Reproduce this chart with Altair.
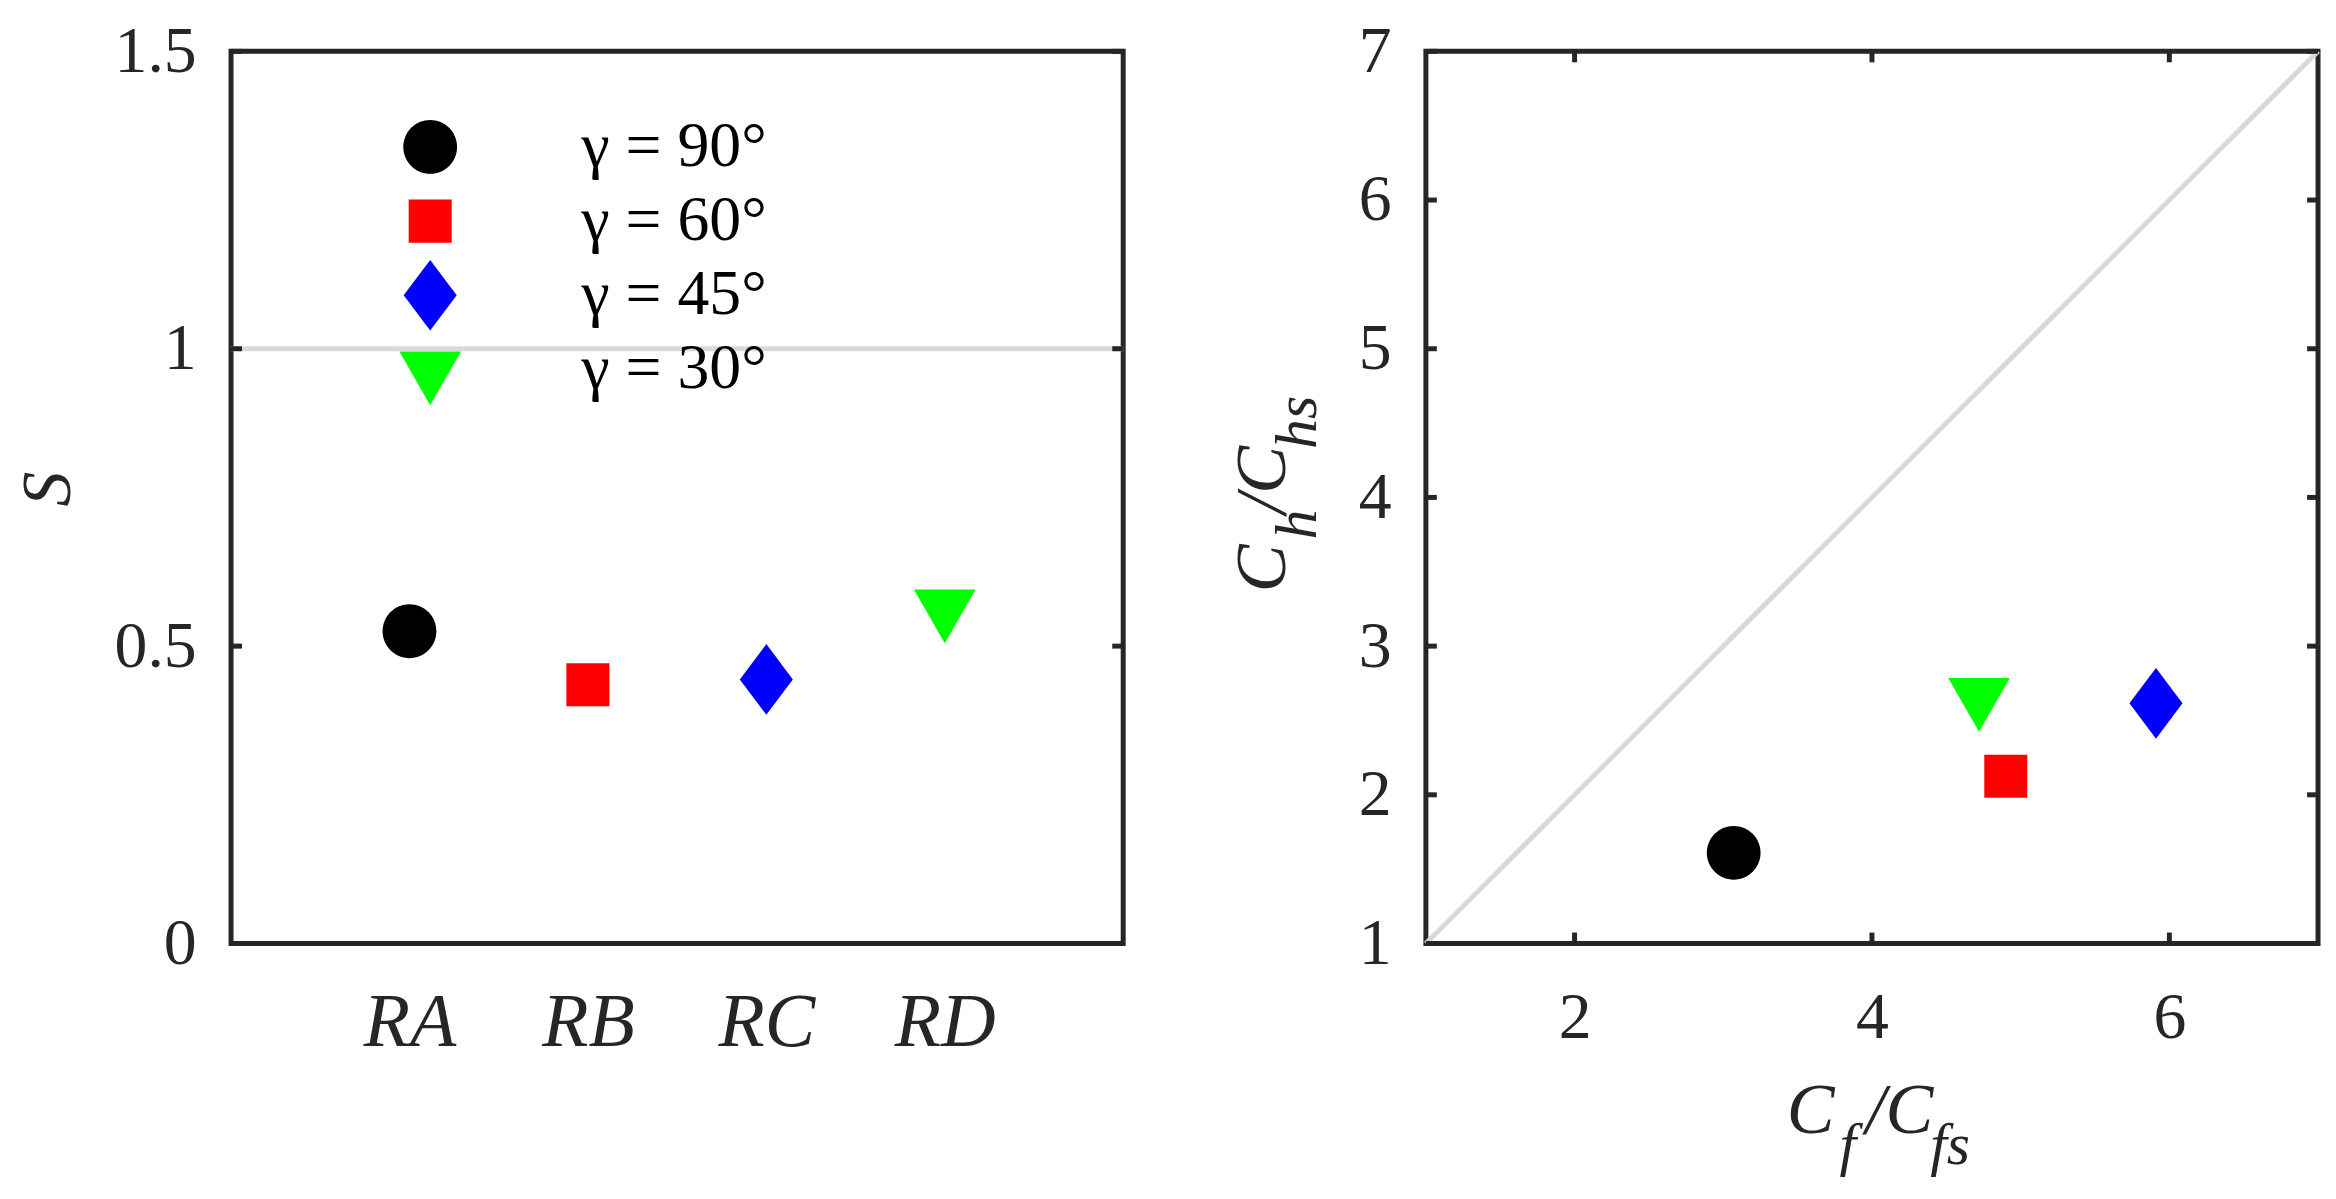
import altair as alt
import pandas as pd

# ---------------- data ----------------
cases = ["RA", "RB", "RC", "RD"]
gammas = ["γ = 90°", "γ = 60°", "γ = 45°", "γ = 30°"]
s_values = [0.525, 0.435, 0.444, 0.565]
cf_ratio = [3.07, 4.90, 5.91, 4.72]
ch_ratio = [1.61, 2.125, 2.615, 2.665]
marker_colors = ["#000000", "#ff0000", "#0000ff", "#00ff00"]

left_y_ticks = [0, 0.5, 1, 1.5]
right_x_ticks = [2, 4, 6]
right_y_ticks = [1, 2, 3, 4, 5, 6, 7]
ref_level = [1]
diag_from = [1]
diag_to = [7]

x_title_parts = ["C", "f", "/C", "fs"]
y_title_parts = ["C", "h", "/C", "hs"]

# ---------------- style ----------------
W = H = 896
FRAME = "#262626"
GRID = "#d9d9d9"
FONT = "Liberation Serif"
TICK = 11
SYM = 5184  # sqrt = 72 px -> path unit = 36 px

circle = "M0.75,0A0.75,0.75,0,1,1,-0.75,0A0.75,0.75,0,1,1,0.75,0Z"
square = "M-0.6,-0.6L0.6,-0.6L0.6,0.6L-0.6,0.6Z"
diamond = "M0,-0.985L0.74,0L0,0.985L-0.74,0Z"
tri_down = "M-0.86,-0.5L0.86,-0.5L0,1Z"
marker_shapes = [circle, square, diamond, tri_down]

left_df = pd.DataFrame({"case": cases, "S": s_values, "gamma": gammas})
right_df = pd.DataFrame({"cf": cf_ratio, "ch": ch_ratio, "gamma": gammas})

color_scale = alt.Scale(domain=gammas, range=marker_colors)
shape_scale = alt.Scale(domain=gammas, range=marker_shapes)

legend = alt.Legend(
    title=None, orient="none", legendX=164, legendY=60, padding=0,
    symbolSize=SYM, symbolStrokeWidth=0, symbolOpacity=1,
    labelFont=FONT, labelFontSize=64, labelColor="#000000",
    labelOffset=116, labelLimit=500, rowPadding=2.5, gridAlign="all",
)

ysc_left = alt.Scale(domain=[0, 1.5], nice=False, zero=False)
left_y_axis = alt.Axis(values=left_y_ticks, format="~g", title="S", titleFontStyle="italic",
                       titleFontSize=70, titleFont=FONT, titleFontWeight="normal",
                       titleColor=FRAME, titleAngle=270, titleX=-162, titleY=439,
                       titleBaseline="alphabetic", titleAlign="center",
                       labelPadding=35)

# ---------------- left panel ----------------
ref_rule = alt.Chart(pd.DataFrame({"ref": ref_level})).mark_rule(
    color=GRID, strokeWidth=5
).encode(y=alt.Y("ref:Q", scale=ysc_left, axis=left_y_axis))

lt = pd.DataFrame({"t": left_y_ticks})
ltick_l = alt.Chart(lt).mark_rule(color=FRAME, strokeWidth=5).encode(
    y=alt.Y("t:Q", scale=ysc_left, axis=left_y_axis), x=alt.value(0), x2=alt.value(TICK))
ltick_r = alt.Chart(lt).mark_rule(color=FRAME, strokeWidth=5).encode(
    y=alt.Y("t:Q", scale=ysc_left, axis=left_y_axis), x=alt.value(W - TICK), x2=alt.value(W))

left_pts = alt.Chart(left_df).mark_point(filled=True, size=SYM, opacity=1, strokeWidth=0).encode(
    x=alt.X("case:N", sort=cases, scale=alt.Scale(type="point", padding=1),
            axis=alt.Axis(title=None, labelAngle=0, labelFontStyle="italic",
                          labelFontSize=76, labelPadding=42)),
    y=alt.Y("S:Q", scale=ysc_left, axis=left_y_axis),
    color=alt.Color("gamma:N", scale=color_scale, legend=legend),
    shape=alt.Shape("gamma:N", scale=shape_scale, legend=legend),
)

left = alt.layer(ref_rule, ltick_l, ltick_r, left_pts).properties(width=W, height=H)

# ---------------- right panel ----------------
sc7 = alt.Scale(domain=[1, 7], nice=False, zero=False)
rx_axis = alt.Axis(values=right_x_ticks, format="~g", title=None, labelPadding=42)
ry_axis = alt.Axis(values=right_y_ticks, format="~g", title=None, labelPadding=35)

diag = alt.Chart(pd.DataFrame({"a": diag_from, "b": diag_to})).mark_rule(
    color=GRID, strokeWidth=5
).encode(x=alt.X("a:Q", scale=sc7, axis=rx_axis), y=alt.Y("a:Q", scale=sc7, axis=ry_axis),
         x2="b:Q", y2="b:Q")

rx = pd.DataFrame({"t": right_x_ticks})
ry = pd.DataFrame({"t": right_y_ticks})
rt_b = alt.Chart(rx).mark_rule(color=FRAME, strokeWidth=5).encode(
    x=alt.X("t:Q", scale=sc7, axis=rx_axis), y=alt.value(H - TICK), y2=alt.value(H))
rt_t = alt.Chart(rx).mark_rule(color=FRAME, strokeWidth=5).encode(
    x=alt.X("t:Q", scale=sc7, axis=rx_axis), y=alt.value(0), y2=alt.value(TICK))
rt_l = alt.Chart(ry).mark_rule(color=FRAME, strokeWidth=5).encode(
    y=alt.Y("t:Q", scale=sc7, axis=ry_axis), x=alt.value(0), x2=alt.value(TICK))
rt_r = alt.Chart(ry).mark_rule(color=FRAME, strokeWidth=5).encode(
    y=alt.Y("t:Q", scale=sc7, axis=ry_axis), x=alt.value(W - TICK), x2=alt.value(W))

right_pts = alt.Chart(right_df).mark_point(filled=True, size=SYM, opacity=1, strokeWidth=0).encode(
    x=alt.X("cf:Q", scale=sc7, axis=rx_axis),
    y=alt.Y("ch:Q", scale=sc7, axis=ry_axis),
    color=alt.Color("gamma:N", scale=color_scale, legend=None),
    shape=alt.Shape("gamma:N", scale=shape_scale, legend=None),
)

one = pd.DataFrame({"k": [0]})
part_size = [72, 60, 72, 60]
part_shift = [0, 53, 79, 144]
part_drop = [0, 31, 0, 31]

title_layers = []
for txt, fs, sh, dr in zip(x_title_parts, part_size, part_shift, part_drop):
    title_layers.append(
        alt.Chart(one).mark_text(text=txt, font=FONT, fontSize=fs, fontStyle="italic",
                                 align="left", baseline="alphabetic", color=FRAME)
        .encode(x=alt.value(362.5 + sh), y=alt.value(1086.5 + dr))
    )
for txt, fs, sh, dr in zip(y_title_parts, part_size, part_shift, part_drop):
    title_layers.append(
        alt.Chart(one).mark_text(text=txt, font=FONT, fontSize=fs, fontStyle="italic",
                                 align="left", baseline="alphabetic", angle=270, color=FRAME)
        .encode(x=alt.value(-141.5 + dr), y=alt.value(543.3 - sh))
    )

right = alt.layer(diag, rt_b, rt_t, rt_l, rt_r, right_pts, *title_layers).properties(width=W, height=H)

chart = alt.hconcat(left, right, spacing=97).resolve_scale(
    color="independent", shape="independent"
).properties(
    padding={"left": 3, "top": 5, "right": 5, "bottom": 5}, background="white"
).configure_view(
    stroke=FRAME, strokeWidth=5
).configure_axis(
    domain=False, ticks=False, tickSize=0, grid=False,
    labelFont=FONT, labelFontSize=66, labelColor=FRAME,
    labelFlush=False, labelOverlap=False,
)

chart.save("out.html", embed_options={"renderer": "svg", "actions": False})
